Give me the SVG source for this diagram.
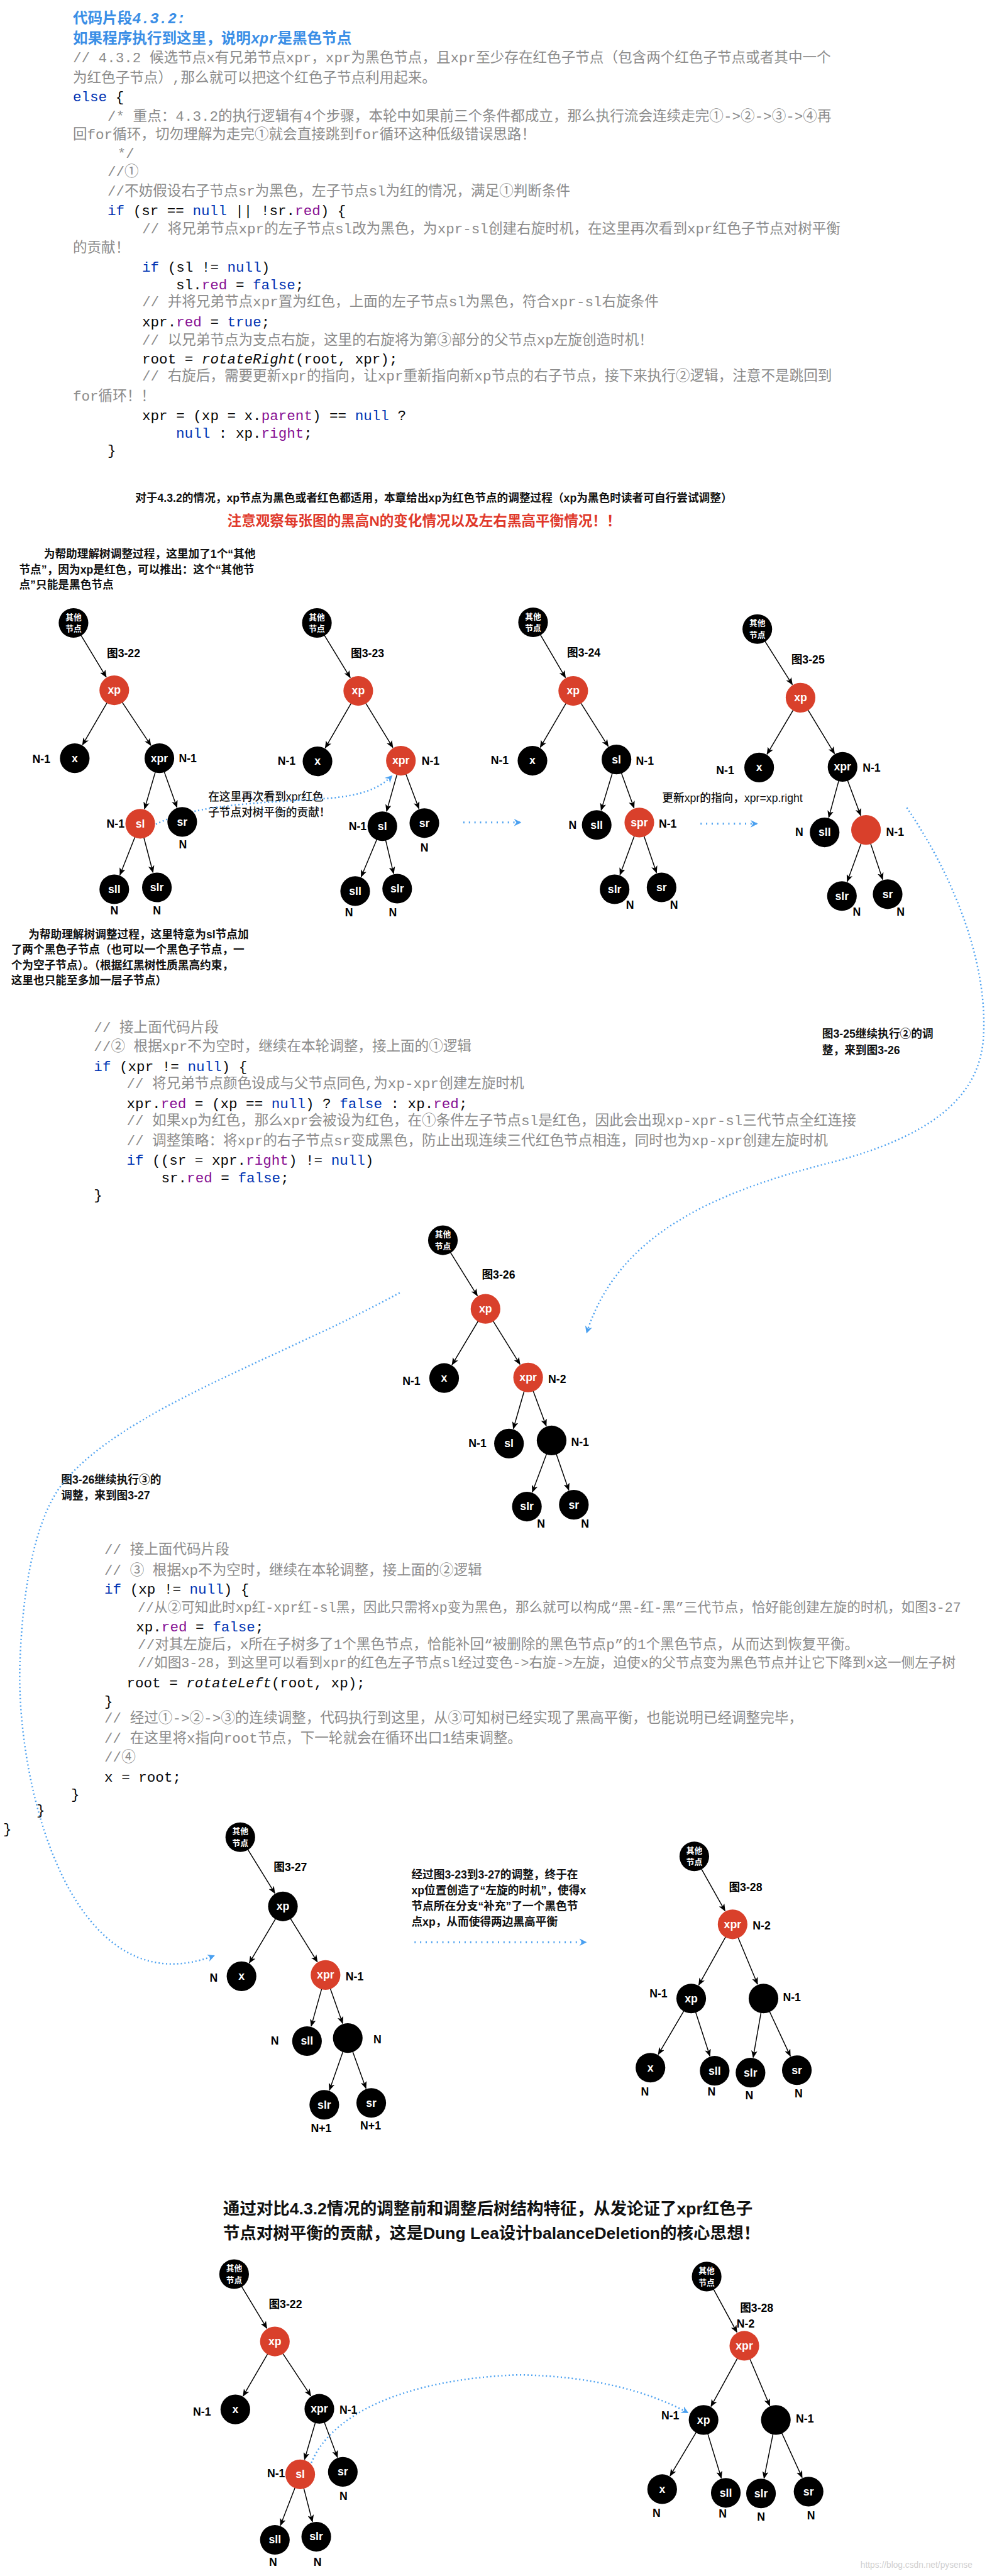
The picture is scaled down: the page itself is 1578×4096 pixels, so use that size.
<svg xmlns="http://www.w3.org/2000/svg" width="1578" height="4096" viewBox="0 0 1578 4096">
<defs>
<style>
.code{font-family:'Liberation Mono','Noto Sans CJK SC',monospace;font-size:23px;fill:#080808}
.sm{font-size:22px}
.cm{fill:#8c8c8c}
.kw{fill:#0033b3}
.fd{fill:#871094}
.it{font-style:italic}
.ttl{font-family:'Noto Sans CJK SC','Liberation Sans',sans-serif;font-weight:bold;font-size:24px;fill:#3a8ee6}
.ann{font-family:'Liberation Sans','Noto Sans CJK SC',sans-serif;font-weight:bold;font-size:18px;fill:#111}
.ann5{font-family:'Liberation Sans','Noto Sans CJK SC',sans-serif;font-weight:500;font-size:18px;fill:#111}
.big{font-size:27px}
.red{font-size:23px;fill:#e0392b}
.nl{font-family:'Liberation Sans',sans-serif;font-weight:bold;font-size:18px;fill:#fff;text-anchor:middle}
.rl{font-family:'Noto Sans CJK SC',sans-serif;font-weight:bold;font-size:13px;fill:#fff;text-anchor:middle}
.hl{font-family:'Liberation Sans',sans-serif;font-weight:bold;font-size:18px;fill:#000;text-anchor:middle}
.fig{font-family:'Liberation Sans','Noto Sans CJK SC',sans-serif;font-weight:bold;font-size:18px;fill:#000}
.nb{fill:#000}
.nr{fill:#d9402b}
.e{stroke:#000;stroke-width:1.5;marker-end:url(#ah)}
.d{fill:none;stroke:#4aa0f0;stroke-width:2.5;stroke-dasharray:2 4;marker-end:url(#bh)}
.dh{stroke-width:3;stroke-dasharray:2 7}
</style>
<marker id="ah" markerUnits="userSpaceOnUse" markerWidth="12" markerHeight="10" refX="11" refY="5" orient="auto"><path d="M0,0 L12,5 L0,10 L3,5 z" fill="#000"/></marker>
<marker id="bh" markerUnits="userSpaceOnUse" markerWidth="14" markerHeight="14" refX="10" refY="7" orient="auto"><path d="M0,1 L12,7 L0,13 L4,7 z" fill="#4aa0f0"/></marker>
</defs>
<rect width="1578" height="4096" fill="#fff"/>
<g transform="scale(0.9826)">
<g id="code1">
<text class="ttl" x="118" y="38">代码片段<tspan class="it" font-family="Liberation Mono">4.3.2:</tspan></text>
<text class="ttl" x="118" y="70">如果程序执行到这里，说明<tspan class="it" font-family="Liberation Mono">xpr</tspan>是黑色节点</text>
<text class="code cm" x="118" y="101">// 4.3.2 候选节点x有兄弟节点xpr，xpr为黑色节点，且xpr至少存在红色子节点（包含两个红色子节点或者其中一个</text>
<text class="code cm" x="118" y="133">为红色子节点）,那么就可以把这个红色子节点利用起来。</text>
<text class="code" x="118" y="164"><tspan class="kw">else</tspan> {</text>
<text class="code cm" x="174" y="195">/* 重点：4.3.2的执行逻辑有4个步骤，本轮中如果前三个条件都成立，那么执行流会连续走完①-&gt;②-&gt;③-&gt;④再</text>
<text class="code cm" x="118" y="225">回for循环，切勿理解为走完①就会直接跳到for循环这种低级错误思路！</text>
<text class="code cm" x="190" y="255">*/</text>
<text class="code cm" x="174" y="285">//①</text>
<text class="code cm" x="174" y="316">//不妨假设右子节点sr为黑色，左子节点sl为红的情况，满足①判断条件</text>
<text class="code" x="174" y="348"><tspan class="kw">if</tspan> (sr == <tspan class="kw">null</tspan> || !sr.<tspan class="fd">red</tspan>) {</text>
<text class="code cm" x="230" y="378">// 将兄弟节点xpr的左子节点sl改为黑色，为xpr-sl创建右旋时机，在这里再次看到xpr红色子节点对树平衡</text>
<text class="code cm" x="118" y="408">的贡献！</text>
<text class="code" x="230" y="440"><tspan class="kw">if</tspan> (sl != <tspan class="kw">null</tspan>)</text>
<text class="code" x="285" y="468">sl.<tspan class="fd">red</tspan> = <tspan class="kw">false</tspan>;</text>
<text class="code cm" x="230" y="496">// 并将兄弟节点xpr置为红色，上面的左子节点sl为黑色，符合xpr-sl右旋条件</text>
<text class="code" x="230" y="528">xpr.<tspan class="fd">red</tspan> = <tspan class="kw">true</tspan>;</text>
<text class="code cm" x="230" y="558">// 以兄弟节点为支点右旋，这里的右旋将为第③部分的父节点xp左旋创造时机！</text>
<text class="code" x="230" y="588">root = <tspan class="it">rotateRight</tspan>(root, xpr);</text>
<text class="code cm" x="230" y="616">// 右旋后，需要更新xpr的指向，让xpr重新指向新xp节点的右子节点，接下来执行②逻辑，注意不是跳回到</text>
<text class="code cm" x="118" y="648">for循环！！</text>
<text class="code" x="230" y="680">xpr = (xp = x.<tspan class="fd">parent</tspan>) == <tspan class="kw">null</tspan> ?</text>
<text class="code" x="285" y="708"><tspan class="kw">null</tspan> : xp.<tspan class="fd">right</tspan>;</text>
<text class="code" x="174" y="736">}</text>
</g>
<g id="notes">
<text class="ann" x="219" y="812">对于4.3.2的情况，xp节点为黑色或者红色都适用，本章给出xp为红色节点的调整过程（xp为黑色时读者可自行尝试调整）</text>
<text class="ann red" x="368" y="851">注意观察每张图的黑高N的变化情况以及左右黑高平衡情况！！</text>
<text class="ann" x="71" y="903">为帮助理解树调整过程，这里加了1个“其他</text>
<text class="ann" x="31" y="928">节点”，因为xp是红色，可以推出：这个“其他节</text>
<text class="ann" x="31" y="953">点”只能是黑色节点</text>
<text class="ann" x="46" y="1518">为帮助理解树调整过程，这里特意为sl节点加</text>
<text class="ann" x="18" y="1543">了两个黑色子节点（也可以一个黑色子节点，一</text>
<text class="ann" x="18" y="1568">个为空子节点）。（根据红黑树性质黑高约束，</text>
<text class="ann" x="18" y="1593">这里也只能至多加一层子节点）</text>
<text class="ann5" x="337" y="1296">在这里再次看到xpr红色</text>
<text class="ann5" x="337" y="1321">子节点对树平衡的贡献！</text>
<text class="ann5" x="1072" y="1298">更新xpr的指向，xpr=xp.right</text>
<text class="ann" x="1331" y="1679">图3-25继续执行②的调</text>
<text class="ann" x="1331" y="1706">整，来到图3-26</text>
<text class="ann" x="99" y="2401">图3-26继续执行③的</text>
<text class="ann" x="99" y="2426">调整，来到图3-27</text>
<text class="ann" x="666" y="3040">经过图3-23到3-27的调整，终于在</text>
<text class="ann" x="666" y="3065">xp位置创造了“左旋的时机”，使得x</text>
<text class="ann" x="666" y="3091">节点所在分支“补充”了一个黑色节</text>
<text class="ann" x="666" y="3116">点xp，从而使得两边黑高平衡</text>
<text class="ann big" x="361" y="3583">通过对比4.3.2情况的调整前和调整后树结构特征，从发论证了xpr红色子</text>
<text class="ann big" x="361" y="3623">节点对树平衡的贡献，这是Dung Lea设计balanceDeletion的核心思想！</text>
<text x="1393" y="4155" font-family="Liberation Sans,sans-serif" font-size="14" fill="#d0d0d0">https://blog.csdn.net/pysense</text>
</g>
<g id="code2">
<text class="code cm" x="152" y="1670">// 接上面代码片段</text>
<text class="code cm" x="152" y="1701">//② 根据xpr不为空时，继续在本轮调整，接上面的①逻辑</text>
<text class="code" x="152" y="1733"><tspan class="kw">if</tspan> (xpr != <tspan class="kw">null</tspan>) {</text>
<text class="code cm" x="205" y="1761">// 将兄弟节点颜色设成与父节点同色,为xp-xpr创建左旋时机</text>
<text class="code" x="205" y="1793">xpr.<tspan class="fd">red</tspan> = (xp == <tspan class="kw">null</tspan>) ? <tspan class="kw">false</tspan> : xp.<tspan class="fd">red</tspan>;</text>
<text class="code cm" x="205" y="1821">// 如果xp为红色，那么xpr会被设为红色，在①条件左子节点sl是红色，因此会出现xp-xpr-sl三代节点全红连接</text>
<text class="code cm" x="205" y="1853">// 调整策略：将xpr的右子节点sr变成黑色，防止出现连续三代红色节点相连，同时也为xp-xpr创建左旋时机</text>
<text class="code" x="205" y="1885"><tspan class="kw">if</tspan> ((sr = xpr.<tspan class="fd">right</tspan>) != <tspan class="kw">null</tspan>)</text>
<text class="code" x="261" y="1913">sr.<tspan class="fd">red</tspan> = <tspan class="kw">false</tspan>;</text>
<text class="code" x="152" y="1941">}</text>
</g>
<g id="code3">
<text class="code cm" x="169" y="2515">// 接上面代码片段</text>
<text class="code cm" x="169" y="2548">// ③ 根据xp不为空时，继续在本轮调整，接上面的②逻辑</text>
<text class="code" x="169" y="2579"><tspan class="kw">if</tspan> (xp != <tspan class="kw">null</tspan>) {</text>
<text class="code cm sm" x="223" y="2608">//从②可知此时xp红-xpr红-sl黑，因此只需将xp变为黑色，那么就可以构成“黑-红-黑”三代节点，恰好能创建左旋的时机，如图3-27</text>
<text class="code" x="220" y="2640">xp.<tspan class="fd">red</tspan> = <tspan class="kw">false</tspan>;</text>
<text class="code cm" x="223" y="2668">//对其左旋后，x所在子树多了1个黑色节点，恰能补回“被删除的黑色节点p”的1个黑色节点，从而达到恢复平衡。</text>
<text class="code cm sm" x="223" y="2698">//如图3-28，到这里可以看到xpr的红色左子节点sl经过变色-&gt;右旋-&gt;左旋，迫使x的父节点变为黑色节点并让它下降到x这一侧左子树</text>
<text class="code" x="205" y="2731">root = <tspan class="it">rotateLeft</tspan>(root, xp);</text>
<text class="code" x="169" y="2760">}</text>
<text class="code cm" x="169" y="2788">// 经过①-&gt;②-&gt;③的连续调整，代码执行到这里，从③可知树已经实现了黑高平衡，也能说明已经调整完毕，</text>
<text class="code cm" x="169" y="2820">// 在这里将x指向root节点，下一轮就会在循环出口1结束调整。</text>
<text class="code cm" x="169" y="2851">//④</text>
<text class="code" x="169" y="2883">x = root;</text>
<text class="code" x="115" y="2911">}</text>
<text class="code" x="59" y="2936">}</text>
<text class="code" x="5" y="2967">}</text>
</g>
<g id="connectors">
<line class="e" x1="119" y1="1008" x2="172.0" y2="1095.6"/>
<line class="e" x1="185" y1="1117" x2="133.6" y2="1205.4"/>
<line class="e" x1="185" y1="1117" x2="244.2" y2="1206.2"/>
<line class="e" x1="258" y1="1227" x2="234.0" y2="1309.0"/>
<line class="e" x1="258" y1="1227" x2="286.5" y2="1306.5"/>
<line class="e" x1="227" y1="1333" x2="194.2" y2="1415.8"/>
<line class="e" x1="227" y1="1333" x2="247.7" y2="1411.8"/>
<line class="e" x1="513" y1="1008" x2="567.0" y2="1096.6"/>
<line class="e" x1="580" y1="1118" x2="526.5" y2="1210.4"/>
<line class="e" x1="580" y1="1118" x2="636.0" y2="1209.7"/>
<line class="e" x1="649" y1="1231" x2="625.8" y2="1313.0"/>
<line class="e" x1="649" y1="1231" x2="678.2" y2="1308.6"/>
<line class="e" x1="619" y1="1337" x2="584.7" y2="1418.9"/>
<line class="e" x1="619" y1="1337" x2="637.2" y2="1413.7"/>
<line class="e" x1="863" y1="1007" x2="915.4" y2="1096.4"/>
<line class="e" x1="928" y1="1118" x2="874.6" y2="1209.4"/>
<line class="e" x1="928" y1="1118" x2="984.7" y2="1207.8"/>
<line class="e" x1="998" y1="1229" x2="973.2" y2="1311.1"/>
<line class="e" x1="998" y1="1229" x2="1026.5" y2="1307.5"/>
<line class="e" x1="1035" y1="1331" x2="1003.7" y2="1415.6"/>
<line class="e" x1="1035" y1="1331" x2="1062.9" y2="1412.4"/>
<line class="e" x1="1226" y1="1018" x2="1282.7" y2="1107.8"/>
<line class="e" x1="1296" y1="1129" x2="1241.7" y2="1220.5"/>
<line class="e" x1="1296" y1="1129" x2="1351.0" y2="1219.6"/>
<line class="e" x1="1364" y1="1241" x2="1341.6" y2="1322.9"/>
<line class="e" x1="1364" y1="1241" x2="1393.3" y2="1319.6"/>
<line class="e" x1="1402" y1="1343" x2="1371.6" y2="1426.5"/>
<line class="e" x1="1402" y1="1343" x2="1429.0" y2="1423.3"/>
<line class="e" x1="717" y1="2007" x2="772.8" y2="2096.8"/>
<line class="e" x1="786" y1="2118" x2="731.8" y2="2208.5"/>
<line class="e" x1="786" y1="2118" x2="841.8" y2="2207.8"/>
<line class="e" x1="855" y1="2229" x2="831.0" y2="2312.0"/>
<line class="e" x1="855" y1="2229" x2="884.3" y2="2307.6"/>
<line class="e" x1="893" y1="2331" x2="861.8" y2="2414.6"/>
<line class="e" x1="893" y1="2331" x2="920.8" y2="2411.4"/>
<line class="e" x1="389" y1="2973" x2="444.9" y2="3063.7"/>
<line class="e" x1="458" y1="3085" x2="403.7" y2="3176.5"/>
<line class="e" x1="458" y1="3085" x2="513.8" y2="3174.8"/>
<line class="e" x1="527" y1="3196" x2="503.8" y2="3278.9"/>
<line class="e" x1="527" y1="3196" x2="554.7" y2="3274.4"/>
<line class="e" x1="563" y1="3298" x2="533.3" y2="3382.4"/>
<line class="e" x1="563" y1="3298" x2="592.5" y2="3379.5"/>
<line class="e" x1="1124" y1="3004" x2="1173.7" y2="3092.2"/>
<line class="e" x1="1186" y1="3114" x2="1131.2" y2="3212.2"/>
<line class="e" x1="1186" y1="3114" x2="1226.4" y2="3210.9"/>
<line class="e" x1="1119" y1="3234" x2="1065.7" y2="3324.5"/>
<line class="e" x1="1119" y1="3234" x2="1149.3" y2="3327.2"/>
<line class="e" x1="1236" y1="3234" x2="1219.3" y2="3329.4"/>
<line class="e" x1="1236" y1="3234" x2="1279.5" y2="3327.3"/>
<line class="e" x1="379" y1="3680" x2="432.0" y2="3767.6"/>
<line class="e" x1="445" y1="3789" x2="393.6" y2="3877.4"/>
<line class="e" x1="445" y1="3789" x2="503.2" y2="3877.1"/>
<line class="e" x1="517" y1="3898" x2="493.0" y2="3980.0"/>
<line class="e" x1="517" y1="3898" x2="546.3" y2="3976.6"/>
<line class="e" x1="486" y1="4004" x2="454.0" y2="4086.7"/>
<line class="e" x1="486" y1="4004" x2="505.8" y2="4080.8"/>
<line class="e" x1="1144" y1="3684" x2="1193.0" y2="3774.0"/>
<line class="e" x1="1205" y1="3796" x2="1151.0" y2="3894.1"/>
<line class="e" x1="1205" y1="3796" x2="1246.2" y2="3893.0"/>
<line class="e" x1="1139" y1="3916" x2="1084.8" y2="4006.5"/>
<line class="e" x1="1139" y1="3916" x2="1167.7" y2="4010.1"/>
<line class="e" x1="1256" y1="3916" x2="1236.9" y2="4010.5"/>
<line class="e" x1="1256" y1="3916" x2="1298.6" y2="4009.3"/>
<path class="d" d="M237,1343 C300,1300 420,1300 530,1292 C580,1288 612,1278 634,1256"/>
<path class="d dh" d="M750,1331 L842,1331"/>
<path class="d dh" d="M1134,1333 L1225,1333"/>
<path class="d" d="M1468,1307 C1545,1420 1600,1560 1592,1680 C1585,1780 1500,1840 1350,1880 C1150,1930 1000,2000 950,2156"/>
<path class="d" d="M647,2092 C450,2200 200,2280 102,2400 C60,2452 36,2560 32,2700 C28,2900 120,3250 346,3165"/>
<path class="d dh" d="M671,3143 L948,3143"/>
<path class="d" d="M502,3991 C530,3910 650,3850 840,3843 C960,3845 1050,3870 1113,3904"/>
</g>
<g id="fig3-22">
<text class="fig" x="173" y="1063">图3-22</text>
<g id="f1-root"><circle class="nb" cx="119" cy="1008" r="24"/><text class="rl" x="119" y="1003">其他</text><text class="rl" x="119" y="1022">节点</text></g>
<g id="f1-xp"><circle class="nr" cx="185" cy="1117" r="24"/><text class="nl" x="185" y="1123">xp</text></g>
<g id="f1-x"><circle class="nb" cx="121" cy="1227" r="24"/><text class="nl" x="121" y="1233">x</text></g>
<g id="f1-xpr"><circle class="nb" cx="258" cy="1227" r="24"/><text class="nl" x="258" y="1233">xpr</text></g>
<g id="f1-sl"><circle class="nr" cx="227" cy="1333" r="24"/><text class="nl" x="227" y="1339">sl</text></g>
<g id="f1-sr"><circle class="nb" cx="295" cy="1330" r="24"/><text class="nl" x="295" y="1336">sr</text></g>
<g id="f1-sll"><circle class="nb" cx="185" cy="1439" r="24"/><text class="nl" x="185" y="1445">sll</text></g>
<g id="f1-slr"><circle class="nb" cx="254" cy="1436" r="24"/><text class="nl" x="254" y="1442">slr</text></g>
<text class="hl" x="67" y="1234">N-1</text><text class="hl" x="304" y="1233">N-1</text><text class="hl" x="187" y="1339">N-1</text><text class="hl" x="296" y="1373">N</text><text class="hl" x="185" y="1480">N</text><text class="hl" x="254" y="1480">N</text>
</g>
<g id="fig3-23">
<text class="fig" x="568" y="1063">图3-23</text>
<g id="f2-root"><circle class="nb" cx="513" cy="1008" r="24"/><text class="rl" x="513" y="1003">其他</text><text class="rl" x="513" y="1022">节点</text></g>
<g id="f2-xp"><circle class="nr" cx="580" cy="1118" r="24"/><text class="nl" x="580" y="1124">xp</text></g>
<g id="f2-x"><circle class="nb" cx="514" cy="1232" r="24"/><text class="nl" x="514" y="1238">x</text></g>
<g id="f2-xpr"><circle class="nr" cx="649" cy="1231" r="24"/><text class="nl" x="649" y="1237">xpr</text></g>
<g id="f2-sl"><circle class="nb" cx="619" cy="1337" r="24"/><text class="nl" x="619" y="1343">sl</text></g>
<g id="f2-sr"><circle class="nb" cx="687" cy="1332" r="24"/><text class="nl" x="687" y="1338">sr</text></g>
<g id="f2-sll"><circle class="nb" cx="575" cy="1442" r="24"/><text class="nl" x="575" y="1448">sll</text></g>
<g id="f2-slr"><circle class="nb" cx="643" cy="1438" r="24"/><text class="nl" x="643" y="1444">slr</text></g>
<text class="hl" x="464" y="1238">N-1</text><text class="hl" x="697" y="1238">N-1</text><text class="hl" x="579" y="1343">N-1</text><text class="hl" x="687" y="1378">N</text><text class="hl" x="565" y="1483">N</text><text class="hl" x="636" y="1483">N</text>
</g>
<g id="fig3-24">
<text class="fig" x="918" y="1062">图3-24</text>
<g id="f3-root"><circle class="nb" cx="863" cy="1007" r="24"/><text class="rl" x="863" y="1002">其他</text><text class="rl" x="863" y="1021">节点</text></g>
<g id="f3-xp"><circle class="nr" cx="928" cy="1118" r="24"/><text class="nl" x="928" y="1124">xp</text></g>
<g id="f3-x"><circle class="nb" cx="862" cy="1231" r="24"/><text class="nl" x="862" y="1237">x</text></g>
<g id="f3-sl"><circle class="nb" cx="998" cy="1229" r="24"/><text class="nl" x="998" y="1235">sl</text></g>
<g id="f3-sll"><circle class="nb" cx="966" cy="1335" r="24"/><text class="nl" x="966" y="1341">sll</text></g>
<g id="f3-spr"><circle class="nr" cx="1035" cy="1331" r="24"/><text class="nl" x="1035" y="1337">spr</text></g>
<g id="f3-slr"><circle class="nb" cx="995" cy="1439" r="24"/><text class="nl" x="995" y="1445">slr</text></g>
<g id="f3-sr"><circle class="nb" cx="1071" cy="1436" r="24"/><text class="nl" x="1071" y="1442">sr</text></g>
<text class="hl" x="809" y="1237">N-1</text><text class="hl" x="1044" y="1238">N-1</text><text class="hl" x="927" y="1341">N</text><text class="hl" x="1081" y="1339">N-1</text><text class="hl" x="1020" y="1471">N</text><text class="hl" x="1091" y="1471">N</text>
</g>
<g id="fig3-25">
<text class="fig" x="1281" y="1074">图3-25</text>
<g id="f4-root"><circle class="nb" cx="1226" cy="1018" r="24"/><text class="rl" x="1226" y="1013">其他</text><text class="rl" x="1226" y="1032">节点</text></g>
<g id="f4-xp"><circle class="nr" cx="1296" cy="1129" r="24"/><text class="nl" x="1296" y="1135">xp</text></g>
<g id="f4-x"><circle class="nb" cx="1229" cy="1242" r="24"/><text class="nl" x="1229" y="1248">x</text></g>
<g id="f4-xpr"><circle class="nb" cx="1364" cy="1241" r="24"/><text class="nl" x="1364" y="1247">xpr</text></g>
<g id="f4-sll"><circle class="nb" cx="1335" cy="1347" r="24"/><text class="nl" x="1335" y="1353">sll</text></g>
<g id="f4-red"><circle class="nr" cx="1402" cy="1343" r="24"/></g>
<g id="f4-slr"><circle class="nb" cx="1363" cy="1450" r="24"/><text class="nl" x="1363" y="1456">slr</text></g>
<g id="f4-sr"><circle class="nb" cx="1437" cy="1447" r="24"/><text class="nl" x="1437" y="1453">sr</text></g>
<text class="hl" x="1174" y="1253">N-1</text><text class="hl" x="1411" y="1249">N-1</text><text class="hl" x="1294" y="1353">N</text><text class="hl" x="1449" y="1353">N-1</text><text class="hl" x="1387" y="1482">N</text><text class="hl" x="1458" y="1482">N</text>
</g>
<g id="fig3-26">
<text class="fig" x="780" y="2069">图3-26</text>
<g id="f5-root"><circle class="nb" cx="717" cy="2007" r="24"/><text class="rl" x="717" y="2002">其他</text><text class="rl" x="717" y="2021">节点</text></g>
<g id="f5-xp"><circle class="nr" cx="786" cy="2118" r="24"/><text class="nl" x="786" y="2124">xp</text></g>
<g id="f5-x"><circle class="nb" cx="719" cy="2230" r="24"/><text class="nl" x="719" y="2236">x</text></g>
<g id="f5-xpr"><circle class="nr" cx="855" cy="2229" r="24"/><text class="nl" x="855" y="2235">xpr</text></g>
<g id="f5-sl"><circle class="nb" cx="824" cy="2336" r="24"/><text class="nl" x="824" y="2342">sl</text></g>
<g id="f5-blk"><circle class="nb" cx="893" cy="2331" r="24"/></g>
<g id="f5-slr"><circle class="nb" cx="853" cy="2438" r="24"/><text class="nl" x="853" y="2444">slr</text></g>
<g id="f5-sr"><circle class="nb" cx="929" cy="2435" r="24"/><text class="nl" x="929" y="2441">sr</text></g>
<text class="hl" x="666" y="2241">N-1</text><text class="hl" x="902" y="2238">N-2</text><text class="hl" x="773" y="2342">N-1</text><text class="hl" x="939" y="2340">N-1</text><text class="hl" x="876" y="2472">N</text><text class="hl" x="947" y="2472">N</text>
</g>
<g id="fig3-27">
<text class="fig" x="443" y="3028">图3-27</text>
<g id="f6-root"><circle class="nb" cx="389" cy="2973" r="24"/><text class="rl" x="389" y="2968">其他</text><text class="rl" x="389" y="2987">节点</text></g>
<g id="f6-xp"><circle class="nb" cx="458" cy="3085" r="24"/><text class="nl" x="458" y="3091">xp</text></g>
<g id="f6-x"><circle class="nb" cx="391" cy="3198" r="24"/><text class="nl" x="391" y="3204">x</text></g>
<g id="f6-xpr"><circle class="nr" cx="527" cy="3196" r="24"/><text class="nl" x="527" y="3202">xpr</text></g>
<g id="f6-sll"><circle class="nb" cx="497" cy="3303" r="24"/><text class="nl" x="497" y="3309">sll</text></g>
<g id="f6-blk"><circle class="nb" cx="563" cy="3298" r="24"/></g>
<g id="f6-slr"><circle class="nb" cx="525" cy="3406" r="24"/><text class="nl" x="525" y="3412">slr</text></g>
<g id="f6-sr"><circle class="nb" cx="601" cy="3403" r="24"/><text class="nl" x="601" y="3409">sr</text></g>
<text class="hl" x="346" y="3207">N</text><text class="hl" x="574" y="3205">N-1</text><text class="hl" x="445" y="3309">N</text><text class="hl" x="611" y="3307">N</text><text class="hl" x="520" y="3450">N+1</text><text class="hl" x="600" y="3446">N+1</text>
</g>
<g id="fig3-28">
<text class="fig" x="1180" y="3060">图3-28</text>
<g id="f7-root"><circle class="nb" cx="1124" cy="3004" r="24"/><text class="rl" x="1124" y="2999">其他</text><text class="rl" x="1124" y="3018">节点</text></g>
<g id="f7-xpr"><circle class="nr" cx="1186" cy="3114" r="24"/><text class="nl" x="1186" y="3120">xpr</text></g>
<g id="f7-xp"><circle class="nb" cx="1119" cy="3234" r="24"/><text class="nl" x="1119" y="3240">xp</text></g>
<g id="f7-blk"><circle class="nb" cx="1236" cy="3234" r="24"/></g>
<g id="f7-x"><circle class="nb" cx="1053" cy="3346" r="24"/><text class="nl" x="1053" y="3352">x</text></g>
<g id="f7-sll"><circle class="nb" cx="1157" cy="3351" r="24"/><text class="nl" x="1157" y="3357">sll</text></g>
<g id="f7-slr"><circle class="nb" cx="1215" cy="3354" r="24"/><text class="nl" x="1215" y="3360">slr</text></g>
<g id="f7-sr"><circle class="nb" cx="1290" cy="3350" r="24"/><text class="nl" x="1290" y="3356">sr</text></g>
<text class="hl" x="1233" y="3122">N-2</text><text class="hl" x="1066" y="3232">N-1</text><text class="hl" x="1282" y="3238">N-1</text><text class="hl" x="1044" y="3391">N</text><text class="hl" x="1152" y="3391">N</text><text class="hl" x="1213" y="3397">N</text><text class="hl" x="1293" y="3394">N</text>
</g>
<g id="fig3-22b">
<text class="fig" x="435" y="3735">图3-22</text>
<g id="f8-root"><circle class="nb" cx="379" cy="3680" r="24"/><text class="rl" x="379" y="3675">其他</text><text class="rl" x="379" y="3694">节点</text></g>
<g id="f8-xp"><circle class="nr" cx="445" cy="3789" r="24"/><text class="nl" x="445" y="3795">xp</text></g>
<g id="f8-x"><circle class="nb" cx="381" cy="3899" r="24"/><text class="nl" x="381" y="3905">x</text></g>
<g id="f8-xpr"><circle class="nb" cx="517" cy="3898" r="24"/><text class="nl" x="517" y="3904">xpr</text></g>
<g id="f8-sl"><circle class="nr" cx="486" cy="4004" r="24"/><text class="nl" x="486" y="4010">sl</text></g>
<g id="f8-sr"><circle class="nb" cx="555" cy="4000" r="24"/><text class="nl" x="555" y="4006">sr</text></g>
<g id="f8-sll"><circle class="nb" cx="445" cy="4110" r="24"/><text class="nl" x="445" y="4116">sll</text></g>
<g id="f8-slr"><circle class="nb" cx="512" cy="4105" r="24"/><text class="nl" x="512" y="4111">slr</text></g>
<text class="hl" x="327" y="3909">N-1</text><text class="hl" x="564" y="3906">N-1</text><text class="hl" x="447" y="4009">N-1</text><text class="hl" x="556" y="4045">N</text><text class="hl" x="442" y="4152">N</text><text class="hl" x="514" y="4152">N</text>
</g>
<g id="fig3-28b">
<text class="fig" x="1198" y="3741">图3-28</text>
<g id="f9-root"><circle class="nb" cx="1144" cy="3684" r="24"/><text class="rl" x="1144" y="3679">其他</text><text class="rl" x="1144" y="3698">节点</text></g>
<g id="f9-xpr"><circle class="nr" cx="1205" cy="3796" r="24"/><text class="nl" x="1205" y="3802">xpr</text></g>
<g id="f9-xp"><circle class="nb" cx="1139" cy="3916" r="24"/><text class="nl" x="1139" y="3922">xp</text></g>
<g id="f9-blk"><circle class="nb" cx="1256" cy="3916" r="24"/></g>
<g id="f9-x"><circle class="nb" cx="1072" cy="4028" r="24"/><text class="nl" x="1072" y="4034">x</text></g>
<g id="f9-sll"><circle class="nb" cx="1175" cy="4034" r="24"/><text class="nl" x="1175" y="4040">sll</text></g>
<g id="f9-slr"><circle class="nb" cx="1232" cy="4035" r="24"/><text class="nl" x="1232" y="4041">slr</text></g>
<g id="f9-sr"><circle class="nb" cx="1309" cy="4032" r="24"/><text class="nl" x="1309" y="4038">sr</text></g>
<text class="hl" x="1207" y="3767">N-2</text><text class="hl" x="1085" y="3915">N-1</text><text class="hl" x="1303" y="3920">N-1</text><text class="hl" x="1063" y="4073">N</text><text class="hl" x="1170" y="4074">N</text><text class="hl" x="1232" y="4079">N</text><text class="hl" x="1313" y="4077">N</text>
</g>
</g>
</svg>
